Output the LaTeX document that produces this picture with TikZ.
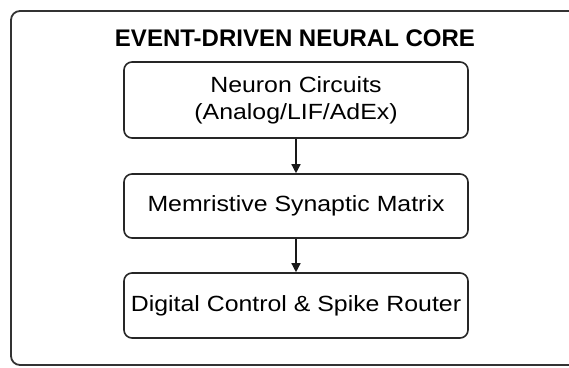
\documentclass[tikz,border=0pt]{standalone}
\usepackage{fontspec}
\setmainfont{Liberation Sans}
\newfontfamily\boxfont{Liberation Sans}[FakeStretch=1.13]
\usetikzlibrary{arrows.meta, positioning}

\begin{document}
\begin{tikzpicture}[x=1pt, y=-1pt,
  blk/.style={draw=black!85, line width=1.6pt, rounded corners=8pt, minimum width=344pt, align=center, font=\boxfont\fontsize{22}{27}\selectfont, inner sep=0pt},
  arr/.style={-{Triangle[length=9pt, width=9pt]}, line width=1.4pt, black!90},
]
  \useasboundingbox (0,0) rectangle (569,367);
  \clip (0,0) rectangle (569,367);
  \draw[line width=1.8pt, rounded corners=9pt, black!80] (11,11) rectangle (600,365);
  \node[font=\bfseries\fontsize{24}{28}\selectfont] (title) at (295,38) {EVENT-DRIVEN NEURAL CORE};
  \node[blk, minimum height=76pt] (neuron) at (296,100) {Neuron Circuits\\(Analog/LIF/AdEx)};
  \node[blk, minimum height=64pt] (synapse) at (296,206) {Memristive Synaptic Matrix};
  \node[blk, minimum height=65pt] (router) at (296,305.5) {Digital Control \& Spike Router};
  \draw[arr] (neuron) -- (synapse);
  \draw[arr] (synapse) -- (router);
\end{tikzpicture}
\end{document}
